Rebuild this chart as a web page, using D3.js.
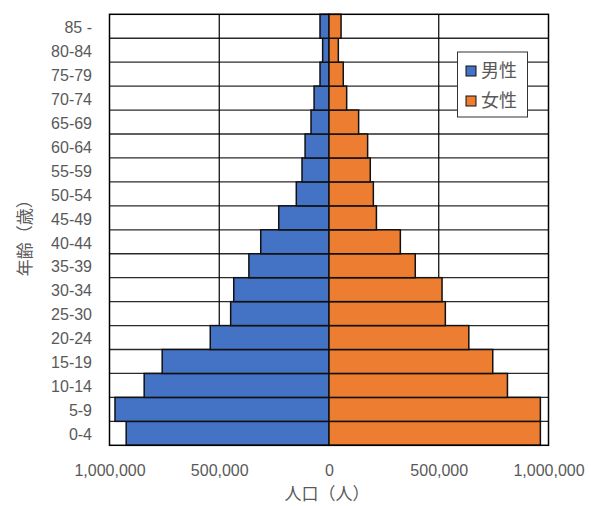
<!DOCTYPE html>
<html>
<head>
<meta charset="utf-8">
<script src="https://cdn.jsdelivr.net/npm/d3@7"></script>
<style>
  html, body { margin: 0; padding: 0; background: #fff; }
  svg { display: block; }
  text { fill: #595959; }
</style>
</head>
<body>
<svg id="chart" width="591" height="506"></svg>
<script>
// Age groups, youngest first
const ages = ["0-4", "5-9", "10-14", "15-19", "20-24", "25-30", "30-34", "35-39", "40-44",
              "45-49", "50-54", "55-59", "60-64", "65-69", "70-74", "75-79", "80-84", "85 -"];
// Population by age group (persons)
const male = [924000, 975000, 842000, 760000, 541000, 448000, 434000, 365000, 311000,
              229000, 149000, 123000, 109000, 82000, 68000, 41000, 29000, 41000];
const female = [963000, 963000, 813000, 746000, 637000, 530000, 515000, 393000, 325000,
                216000, 202000, 188000, 176000, 135000, 80500, 65000, 42500, 55000];
const xTicks = [-1000000, -500000, 0, 500000, 1000000];
const seriesNames = ["男性", "女性"];
const seriesColors = ["#4472C4", "#ED7D31"];

const latinFont = "'Liberation Sans', Arial, sans-serif";
const cjkFont = "'Noto Sans CJK JP', sans-serif";

const svg = d3.select("#chart");
const plot = { left: 109.5, right: 548.5, top: 14.3, bottom: 445.3 };

const x = d3.scaleLinear().domain([-1000000, 1000000]).range([plot.left, plot.right]);
const y = d3.scaleBand().domain(ages.slice().reverse()).range([plot.top, plot.bottom]).padding(0);

const rows = ages.map((a, i) => ({ age: a, male: male[i], female: female[i] }));

// horizontal row separators
svg.append("g")
  .selectAll("line")
  .data(ages.slice(0, -1))
  .join("line")
  .attr("x1", plot.left).attr("x2", plot.right)
  .attr("y1", d => y(d)).attr("y2", d => y(d))
  .attr("stroke", "#2a2a2a").attr("stroke-width", 1.3);

// vertical gridlines at ±500,000
svg.append("g")
  .selectAll("line")
  .data(xTicks.filter(t => Math.abs(t) === 500000))
  .join("line")
  .attr("x1", d => x(d)).attr("x2", d => x(d))
  .attr("y1", plot.top).attr("y2", plot.bottom)
  .attr("stroke", "#000").attr("stroke-width", 1.2);

// bars
const bars = svg.append("g");
bars.selectAll("rect.male")
  .data(rows)
  .join("rect")
  .attr("class", "male")
  .attr("x", d => x(-d.male))
  .attr("y", d => y(d.age))
  .attr("width", d => x(0) - x(-d.male))
  .attr("height", y.bandwidth())
  .attr("fill", seriesColors[0])
  .attr("stroke", "#111").attr("stroke-width", 1.5);

bars.selectAll("rect.female")
  .data(rows)
  .join("rect")
  .attr("class", "female")
  .attr("x", x(0))
  .attr("y", d => y(d.age))
  .attr("width", d => x(d.female) - x(0))
  .attr("height", y.bandwidth())
  .attr("fill", seriesColors[1])
  .attr("stroke", "#111").attr("stroke-width", 1.5);

// plot border
svg.append("rect")
  .attr("x", plot.left).attr("y", plot.top)
  .attr("width", plot.right - plot.left).attr("height", plot.bottom - plot.top)
  .attr("fill", "none").attr("stroke", "#000").attr("stroke-width", 1.5);

// x axis labels
const xAxis = d3.axisBottom(x)
  .tickValues(xTicks)
  .tickFormat(d => d3.format(",")(Math.abs(d)))
  .tickSize(0)
  .tickPadding(0);
const gx = svg.append("g").attr("transform", `translate(0,${plot.bottom})`).call(xAxis);
gx.select(".domain").remove();
gx.selectAll("text")
  .attr("y", 31).attr("dy", null)
  .style("font-family", latinFont).style("font-size", "16px").style("fill", "#595959");

// y axis labels
const yAxis = d3.axisLeft(y).tickSize(0).tickPadding(0);
const gy = svg.append("g").attr("transform", `translate(92,0)`).call(yAxis);
gy.select(".domain").remove();
gy.selectAll("text")
  .attr("x", 0).attr("dy", "0.42em")
  .style("font-family", latinFont).style("font-size", "16px").style("fill", "#595959");

// axis titles
svg.append("text")
  .attr("x", x(0) - 2).attr("y", 500)
  .attr("text-anchor", "middle")
  .style("font-family", cjkFont).style("font-size", "17px")
  .text("人口（人）");

svg.append("text")
  .attr("transform", `translate(31,${(plot.top + plot.bottom) / 2 + 4}) rotate(-90)`)
  .attr("text-anchor", "middle")
  .style("font-family", cjkFont).style("font-size", "17px")
  .text("年齢（歳）");

// legend
const legend = svg.append("g").attr("transform", "translate(457.5,52)");
legend.append("rect")
  .attr("width", 70).attr("height", 65)
  .attr("fill", "#fff").attr("stroke", "#333").attr("stroke-width", 1);
const items = legend.selectAll("g.item")
  .data(seriesNames)
  .join("g")
  .attr("class", "item")
  .attr("transform", (d, i) => `translate(8.5,${14 + i * 30})`);
items.append("rect")
  .attr("width", 10).attr("height", 10)
  .attr("fill", (d, i) => seriesColors[i])
  .attr("stroke", "#111").attr("stroke-width", 1);
items.append("text")
  .attr("x", 15).attr("y", 5).attr("dy", "0.36em")
  .style("font-family", cjkFont).style("font-size", "18px")
  .text(d => d);
</script>
</body>
</html>
